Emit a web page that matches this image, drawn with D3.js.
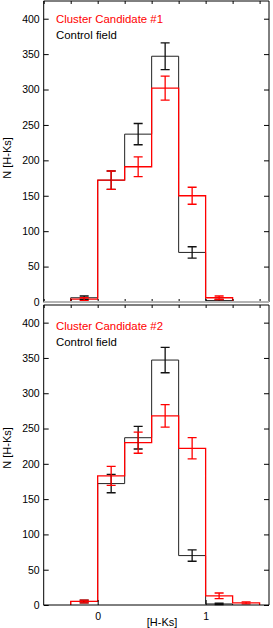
<!DOCTYPE html>
<meta charset="utf-8">
<title>H-Ks histograms</title>
<body>
<script src="https://cdnjs.cloudflare.com/ajax/libs/d3/7.8.5/d3.min.js"></script>
<style>
html, body {
    margin: 0;
    background: #fff;
}
svg {
    display: block;
    font-family: "Liberation Sans", Arial, sans-serif;
}
</style>
<script>
// bins in [H-Ks], 0.25 wide
var binEdges = [-0.25, 0, 0.25, 0.5, 0.75, 1, 1.25, 1.5];

// panel 1
var control1    = [6, 172, 237, 347, 70, 2, null];
var controlErr1 = [2.5, 13, 15, 19, 8, 1.5, null];
var cluster1    = [4, 172, 191, 302, 150, 6, null];
var clusterErr1 = [2, 13, 14, 17, 12, 2.5, null];

// panel 2
var control2    = [5, 172, 237, 347, 70, 1.5, null];
var controlErr2 = [2, 13, 16, 18, 8, 1, null];
var cluster2    = [5, 183, 230, 268, 222, 13, 3];
var clusterErr2 = [2, 13.5, 15, 16, 15, 4, 1.5];

var yMajor = [0, 50, 100, 150, 200, 250, 300, 350, 400];
var yMinor = d3.range(0, 430, 10);
var xTicks = [-0.5, -0.25, 0, 0.25, 0.5, 0.75, 1, 1.25, 1.5];
var xLabelled = [0, 1];

var width = 273,
    height = 628;

var svg = d3.select("body").append("svg")
    .attr("width", width)
    .attr("height", height);

var x = d3.scaleLinear()
    .domain([-0.5, 1.587])
    .range([43.7, 269]);

var panels = [
    { top: 1, bottom: 302, name: "Cluster Candidate #1", control: control1, controlErr: controlErr1,
      cluster: cluster1, clusterErr: clusterErr1, legendY: 23, labelY: 158, floor: "#b4b4b4", floorW: 2 },
    { top: 305, bottom: 605, name: "Cluster Candidate #2", control: control2, controlErr: controlErr2,
      cluster: cluster2, clusterErr: clusterErr2, legendY: 330, labelY: 448, floor: "#000", floorW: 1 }
];

function bins(vals, errs) {
    var out = [];
    vals.forEach(function(v, i) {
        if (v == null) return;
        out.push({ x0: binEdges[i], x1: binEdges[i + 1], v: v, e: errs[i] });
    });
    return out;
}

// outline of a step histogram, starting and ending on the baseline
function steps(data) {
    var pts = [[data[0].x0, 0]];
    data.forEach(function(d) {
        pts.push([d.x0, d.v], [d.x1, d.v]);
    });
    pts.push([data[data.length - 1].x1, 0]);
    return pts;
}

panels.forEach(function(p, k) {
    var y = d3.scaleLinear()
        .domain([0, 425])
        .range([p.bottom, p.top]);

    var line = d3.line()
        .x(function(d) { return x(d[0]); })
        .y(function(d) { return y(d[1]); });

    var g = svg.append("g");

    function drawBars(data, color, w) {
        g.append("path")
            .datum(steps(data))
            .attr("d", line)
            .attr("fill", "none")
            .attr("stroke", color)
            .attr("stroke-width", w);
    }

    function drawErrors(data, color) {
        g.append("g").selectAll("path")
            .data(data)
          .enter().append("path")
            .attr("d", function(d) {
                var cx = x((d.x0 + d.x1) / 2),
                    hi = y(d.v + d.e),
                    lo = y(Math.max(0, d.v - d.e)),
                    c = 4.5;
                return "M" + (cx - c) + "," + hi + "H" + (cx + c)
                     + "M" + cx + "," + hi + "V" + lo
                     + "M" + (cx - c) + "," + lo + "H" + (cx + c);
            })
            .attr("fill", "none")
            .attr("stroke", color)
            .attr("stroke-width", 1.3);
    }

    var ctl = bins(p.control, p.controlErr),
        cl = bins(p.cluster, p.clusterErr);

    drawBars(ctl, "#222", 1);
    drawBars(cl, "#ff0000", 1.3);
    drawErrors(ctl, "#111");
    drawErrors(cl, "#ff0000");

    // axes: ticks point inward
    var left = g.append("g").attr("transform", "translate(" + x.range()[0] + ",0)");
    left.call(d3.axisLeft(y).tickValues(yMinor).tickSize(-3).tickFormat(""));
    left.call(d3.axisLeft(y).tickValues(yMajor).tickSize(-5).tickPadding(4));

    var right = g.append("g").attr("transform", "translate(" + x.range()[1] + ",0)");
    right.call(d3.axisRight(y).tickValues(yMinor).tickSize(-3).tickFormat(""));
    right.call(d3.axisRight(y).tickValues(yMajor).tickSize(-5).tickFormat(""));

    g.append("g")
        .attr("transform", "translate(0," + p.top + ")")
        .call(d3.axisTop(x).tickValues(xTicks).tickSize(-3).tickFormat(""));

    var bottom = g.append("g").attr("transform", "translate(0," + p.bottom + ")");
    bottom.call(d3.axisBottom(x).tickValues(xTicks).tickSize(-3).tickFormat(""));
    if (k == 1) {
        bottom.call(d3.axisBottom(x).tickValues(xLabelled).tickSize(-5).tickPadding(8).tickFormat(d3.format("d")));
    }

    g.selectAll(".domain").remove();
    g.selectAll(".tick line").attr("stroke", "#000");
    g.selectAll(".tick text")
        .attr("fill", "#000")
        .style("font-size", "10.5px");

    // frame
    var x0 = x.range()[0], x1 = x.range()[1];
    g.append("path")
        .attr("d", "M" + x0 + "," + p.bottom + "V" + p.top + "H" + x1 + "V" + p.bottom)
        .attr("fill", "none")
        .attr("stroke", "#000")
        .attr("stroke-width", 1);
    g.append("line")
        .attr("x1", x0).attr("x2", x1)
        .attr("y1", p.bottom).attr("y2", p.bottom)
        .attr("stroke", p.floor)
        .attr("stroke-width", p.floorW);

    // legend
    g.append("text")
        .attr("x", 56)
        .attr("y", p.legendY)
        .attr("fill", "#ff0000")
        .style("font-size", "11.4px")
        .text(p.name);
    g.append("text")
        .attr("x", 56)
        .attr("y", p.legendY + 15.5)
        .attr("fill", "#000")
        .style("font-size", "11.4px")
        .text("Control field");

    // y label
    g.append("text")
        .attr("transform", "translate(10.5," + p.labelY + ") rotate(-90)")
        .attr("text-anchor", "middle")
        .style("font-size", "11px")
        .text("N [H-Ks]");
});

svg.append("text")
    .attr("x", 162)
    .attr("y", 626)
    .attr("text-anchor", "middle")
    .style("font-size", "11px")
    .text("[H-Ks]");
</script>
